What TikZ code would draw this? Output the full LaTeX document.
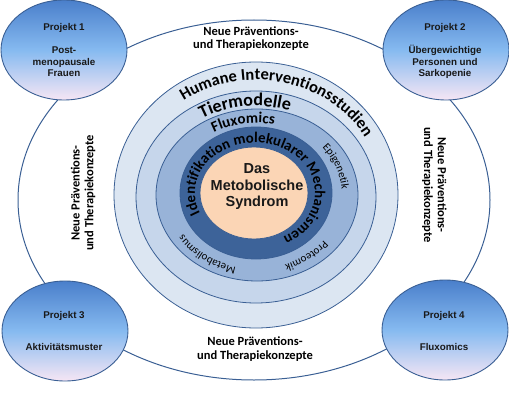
\documentclass[tikz,border=0pt]{standalone}
\usepackage{fontspec}
\setmainfont{Liberation Sans}
\newfontfamily\calib{Carlito}
\usetikzlibrary{decorations.text,shapes.geometric}
\definecolor{ringA}{HTML}{DCE6F2}
\definecolor{ringB}{HTML}{C6D6EB}
\definecolor{ringC}{HTML}{98B3D8}
\definecolor{ringD}{HTML}{3D6399}
\definecolor{core}{HTML}{FBD5B5}
\definecolor{edge}{HTML}{3A5F94}
\definecolor{projtop}{HTML}{4A7FCB}
\definecolor{projmid}{HTML}{86BAF0}
\definecolor{projbot}{HTML}{F6E6F4}
\begin{document}
\begin{tikzpicture}[x=1pt,y=1pt,
  ring/.style={draw=edge, line width=0.8pt},
  proj/.style={ellipse, draw=edge, line width=0.9pt, minimum width=126pt, minimum height=100pt, inner sep=0pt,
    top color=projtop, bottom color=projbot, middle color=projmid},
  projtxt/.style={font=\bfseries\fontsize{9.8}{11.5}\selectfont, align=center, text=black!90},
  neu/.style={font=\calib\bfseries\fontsize{12.5}{13.8}\selectfont, align=center, text=black},
  coretxt/.style={font=\bfseries\fontsize{14.5}{16.5}\selectfont, align=center, text=black!90}]
\useasboundingbox (0,0) rectangle (509,400);
% big outline ellipse
\draw[edge, line width=1pt] (254,200) ellipse[x radius=236, y radius=180];
% rings
\draw[ring, fill=ringA] (256,205) ellipse[x radius=142, y radius=133];
\draw[ring, fill=ringB] (256,203) ellipse[x radius=120, y radius=106];
\draw[ring, fill=ringC] (257,205) ellipse[x radius=101, y radius=86];
\draw[ring, fill=ringD] (256,207) ellipse[x radius=76, y radius=66];
\draw[ring, fill=core] (254,207) ellipse[x radius=54, y radius=46];
% curved texts
\path[decorate, decoration={text along path, text align=center,
  text={|\calib\bfseries\fontsize{16.5}{16.5}\selectfont|Humane Interventionsstudien}}]
  (256,205) ++(167:126 and 115) arc[start angle=167, end angle=-13, x radius=126, y radius=115];
\path[decorate, decoration={text along path, text align=center,
  text={|\calib\bfseries\fontsize{18}{18}\selectfont|Tiermodelle}}]
  (256,205) ++(187:104 and 89) arc[start angle=187, end angle=7, x radius=104, y radius=89];
\path[decorate, decoration={text along path, text align=center,
  text={|\calib\bfseries\fontsize{15}{15}\selectfont|Fluxomics}}]
  (256,205) ++(190:84 and 72) arc[start angle=190, end angle=10, x radius=84, y radius=72];
\path[decorate, decoration={text along path, text align=center,
  text={|\calib\bfseries\fontsize{14.8}{14.8}\selectfont|Identifikation molekularer Mechanismen}}]
  (255,207) ++(207:60 and 50) arc[start angle=207, end angle=-65, x radius=60, y radius=50];
\path[decorate, decoration={text along path, text align=center,
  text={|\calib\fontsize{11}{11}\selectfont|Epigenetik}}]
  (256,205) ++(60:86 and 74) arc[start angle=60, end angle=-18, x radius=86, y radius=74];
\path[decorate, decoration={text along path, text align=center,
  text={|\calib\fontsize{11}{11}\selectfont|Proteomik}}]
  (256,205) ++(-15:86 and 74) arc[start angle=-15, end angle=-91, x radius=86, y radius=74];
\path[decorate, decoration={text along path, text align=center,
  text={|\calib\fontsize{11}{11}\selectfont|Metabolismus}}]
  (256,205) ++(277:86 and 74) arc[start angle=277, end angle=189, x radius=86, y radius=74];
% core text
\node[coretxt] (core) at (257,213) {Das\\Metobolische\\Syndrom};
% project ellipses
\node[proj] (p1) at (64,350) {};
\node[proj] (p2) at (446,350) {};
\node[proj] (p3) at (65,69) {};
\node[proj] (p4) at (445,70) {};
\node[projtxt] (t1) at (64,372) {Projekt 1};
\node[projtxt] (b1) at (64,338) {Post-\\menopausale\\Frauen};
\node[projtxt] (t2) at (445,372) {Projekt 2};
\node[projtxt] (b2) at (445,338) {Übergewichtige\\Personen und\\Sarkopenie};
\node[projtxt] (t3) at (64,84) {Projekt 3};
\node[projtxt] (b3) at (64,53) {Aktivitätsmuster};
\node[projtxt] (t4) at (444,84) {Projekt 4};
\node[projtxt] (b4) at (444,53) {Fluxomics};
% Neue Praeventions texts
\node[neu] (ntop) at (251,361.5) {Neue Präventions-\\und Therapiekonzepte};
\node[neu] (nbot) at (255,51) {Neue Präventions-\\und Therapiekonzepte};
\node[neu, rotate=90] (nleft) at (83,207) {Neue Präventions-\\und Therapiekonzepte};
\node[neu, rotate=-90] (nright) at (434.5,215) {Neue Präventions-\\und Therapiekonzepte};
\end{tikzpicture}
\end{document}
